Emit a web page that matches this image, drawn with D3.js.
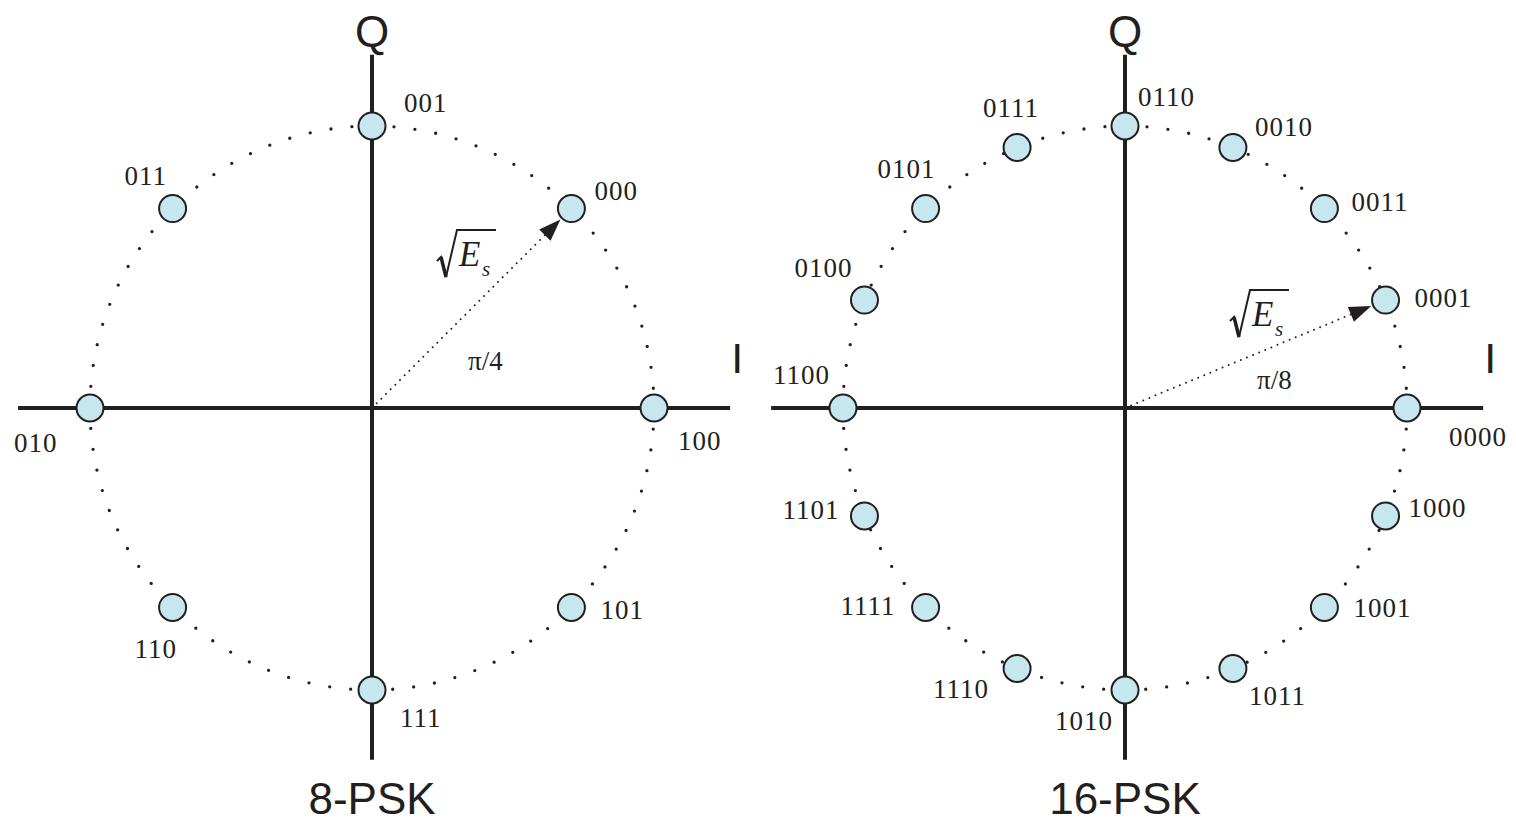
<!DOCTYPE html>
<html>
<head>
<meta charset="utf-8">
<script src="https://cdn.jsdelivr.net/npm/d3@7"></script>
<style>
  body { margin: 0; background: #fff; }
</style>
</head>
<body>
<script>
// 8-PSK constellation: phase (degrees) and bit label
var psk8Angles = [0, 45, 90, 135, 180, 225, 270, 315];
var psk8Labels = ['100', '000', '001', '011', '010', '110', '111', '101'];

// 16-PSK constellation
var psk16Angles = [0, 22.5, 45, 67.5, 90, 112.5, 135, 157.5, 180, 202.5, 225, 247.5, 270, 292.5, 315, 337.5];
var psk16Labels = ['0000', '0001', '0011', '0010', '0110', '0111', '0101', '0100',
                   '1100', '1101', '1111', '1110', '1010', '1011', '1001', '1000'];

// label nudges (start x, baseline) relative to each point
var psk8Nudge = [[24, 42], [23, -9], [32, -14], [-48, -24], [-76, 44], [-38, 51], [28, 37], [29, 12]];
var psk16Nudge = [[42, 38], [29, 7], [27, 2], [22, -11], [13, -20], [-34, -30], [-48, -31], [-70, -23],
                  [-70, -24], [-82, 3], [-85, 8], [-84, 29], [-70, 40], [16, 36], [29, 10], [23, 1]];

var ink = '#231f20', dotFill = '#c6e7ee',
    serif = '"Liberation Serif", "Times New Roman", serif',
    sans = '"Liberation Sans", Arial, sans-serif';

var svg = d3.select('body').append('svg')
    .attr('width', 1516)
    .attr('height', 824);

var panels = [
  { cx: 372, title: '8-PSK', angles: psk8Angles, labels: psk8Labels, nudge: psk8Nudge,
    arrowIdx: 1, angleText: 'π/4', angleAt: [468, 370], rootAt: [437, 230] },
  { cx: 1125, title: '16-PSK', angles: psk16Angles, labels: psk16Labels, nudge: psk16Nudge,
    arrowIdx: 1, angleText: 'π/8', angleAt: [1257, 389], rootAt: [1230, 290] }
];

panels.forEach(function (p) {
  var R = 282, cy = 408;
  var x = d3.scaleLinear().domain([-1, 1]).range([p.cx - R, p.cx + R]);
  var y = d3.scaleLinear().domain([-1, 1]).range([cy + R, cy - R]);
  var g = svg.append('g');

  var pts = p.angles.map(function (a, i) {
    var r = a * Math.PI / 180;
    return { i: Math.cos(r), q: Math.sin(r), label: p.labels[i], nudge: p.nudge[i] };
  });

  // dotted unit circle
  g.append('circle')
      .attr('cx', x(0)).attr('cy', y(0))
      .attr('r', x(1) - x(0))
      .attr('fill', 'none')
      .attr('stroke', ink)
      .attr('stroke-width', 3.3)
      .attr('stroke-linecap', 'round')
      .attr('stroke-dasharray', '0 21.1');

  // I and Q axes
  g.append('line')
      .attr('x1', x(-1.255)).attr('x2', x(1.27))
      .attr('y1', y(0)).attr('y2', y(0))
      .attr('stroke', ink).attr('stroke-width', 4);
  g.append('line')
      .attr('x1', x(0)).attr('x2', x(0))
      .attr('y1', y(1.253)).attr('y2', y(-1.247))
      .attr('stroke', ink).attr('stroke-width', 4);

  g.append('text')
      .attr('x', x(0)).attr('y', 47)
      .attr('text-anchor', 'middle')
      .attr('font-family', sans).attr('font-size', 44)
      .attr('fill', ink)
      .text('Q');
  g.append('text')
      .attr('x', x(1.295)).attr('y', 373)
      .attr('text-anchor', 'middle')
      .attr('font-family', sans).attr('font-size', 43)
      .attr('fill', ink)
      .text('I');

  // dotted radius vector with arrow head
  var a = pts[p.arrowIdx], tipR = 0.945;
  var tx = x(a.i * tipR), ty = y(a.q * tipR);
  var ang = Math.atan2(ty - y(0), tx - x(0)), L = 22, W = 8;
  var bx = tx - L * Math.cos(ang), by = ty - L * Math.sin(ang);
  g.append('line')
      .attr('x1', x(0)).attr('y1', y(0))
      .attr('x2', bx).attr('y2', by)
      .attr('stroke', ink)
      .attr('stroke-width', 2)
      .attr('stroke-linecap', 'round')
      .attr('stroke-dasharray', '0 6.6');
  g.append('path')
      .attr('d', 'M' + tx + ',' + ty +
                 'L' + (bx - W * Math.sin(ang)) + ',' + (by + W * Math.cos(ang)) +
                 'L' + (bx + W * Math.sin(ang)) + ',' + (by - W * Math.cos(ang)) + 'Z')
      .attr('fill', ink);

  // sqrt(Es)
  var root = g.append('g').attr('transform', 'translate(' + p.rootAt[0] + ',' + p.rootAt[1] + ')');
  root.append('path')
      .attr('d', 'M0,31 L4,27 L9,47 L20,0 L59,0')
      .attr('fill', 'none')
      .attr('stroke', ink)
      .attr('stroke-width', 2)
      .attr('stroke-linejoin', 'miter');
  root.append('path')
      .attr('d', 'M4,27 L9,47')
      .attr('stroke', ink)
      .attr('stroke-width', 3.5);
  root.append('text')
      .attr('x', 22).attr('y', 36)
      .attr('font-family', serif).attr('font-style', 'italic')
      .attr('font-size', 35).attr('fill', ink)
      .text('E');
  root.append('text')
      .attr('x', 45).attr('y', 46)
      .attr('font-family', serif).attr('font-style', 'italic')
      .attr('font-size', 21).attr('fill', ink)
      .text('s');

  g.append('text')
      .attr('x', p.angleAt[0]).attr('y', p.angleAt[1])
      .attr('font-family', serif).attr('font-size', 27)
      .attr('fill', ink)
      .text(p.angleText);

  // constellation points
  g.selectAll('circle.pt')
      .data(pts)
      .enter().append('circle')
      .attr('class', 'pt')
      .attr('cx', function (d) { return x(d.i); })
      .attr('cy', function (d) { return y(d.q); })
      .attr('r', 13.5)
      .attr('fill', dotFill)
      .attr('stroke', ink)
      .attr('stroke-width', 2);

  g.selectAll('text.lbl')
      .data(pts)
      .enter().append('text')
      .attr('class', 'lbl')
      .attr('x', function (d) { return x(d.i) + d.nudge[0]; })
      .attr('y', function (d) { return y(d.q) + d.nudge[1]; })
      .attr('font-family', serif)
      .attr('font-size', 27)
      .attr('letter-spacing', 1)
      .attr('fill', ink)
      .text(function (d) { return d.label; });

  g.append('text')
      .attr('x', x(0)).attr('y', 814)
      .attr('text-anchor', 'middle')
      .attr('font-family', sans).attr('font-size', 44)
      .attr('fill', ink)
      .text(p.title);
});
</script>
</body>
</html>
